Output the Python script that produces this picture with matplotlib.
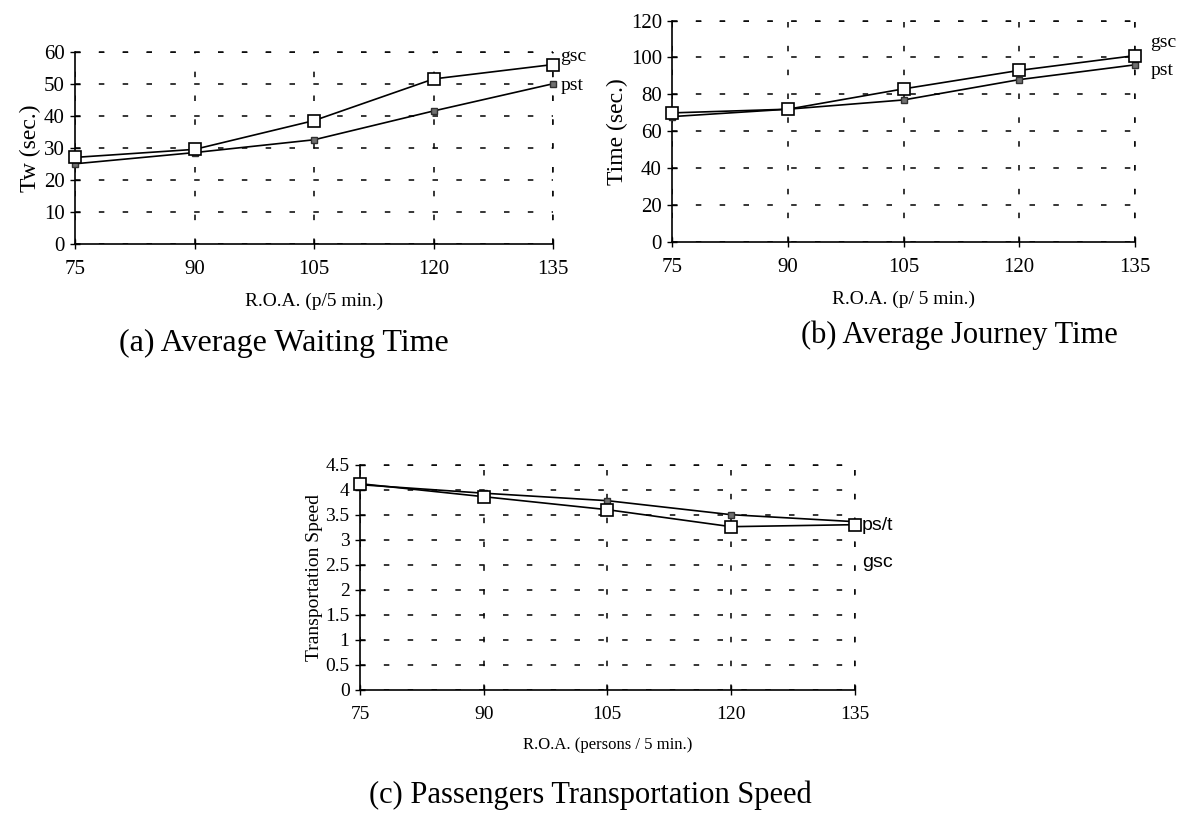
import matplotlib
matplotlib.use("Agg")
import matplotlib.pyplot as plt

roa = [75, 90, 105, 120, 135]

# (a) Average waiting time
wait_gsc = [27, 29.5, 38.5, 51.5, 56]
wait_pst = [25, 28.5, 32.5, 41.5, 50]

# (b) Average journey time
journey_gsc = [70, 72, 83, 93, 101]
journey_pst = [68, 72, 77, 88, 96]

# (c) Transportation speed
speed_gsc = [4.12, 3.86, 3.6, 3.26, 3.3]
speed_pst = [4.1, 3.93, 3.78, 3.5, 3.36]

SERIF = "Liberation Serif"
SANS = "Liberation Sans"
DASH = (0, (3.6, 12))

fig = plt.figure(figsize=(11.92, 8.21), dpi=100)


def style_axes(ax, ymax, yticks, ylabels, fontsize):
    ax.set_xlim(75, 135)
    ax.set_ylim(0, ymax)
    ax.set_xticks(roa)
    ax.set_xticklabels([str(v) for v in roa], fontsize=fontsize, family=SERIF)
    ax.set_yticks(yticks)
    ax.set_yticklabels(ylabels, fontsize=fontsize, family=SERIF)
    ax.spines["top"].set_visible(False)
    ax.spines["right"].set_visible(False)
    ax.spines["left"].set_linewidth(1.2)
    ax.spines["bottom"].set_linewidth(1.2)
    ax.grid(True, color="black", linestyle=DASH, linewidth=1.1)
    ax.set_axisbelow(True)
    ax.tick_params(axis="both", direction="inout", length=7, width=1)
    ax.tick_params(axis="x", pad=8)
    ax.tick_params(axis="y", pad=4)
    ax.axhline(ymax, color="black", linestyle=DASH, linewidth=1.1, clip_on=False)
    ax.axvline(135, color="black", linestyle=DASH, linewidth=1.1, clip_on=False)


def plot_series(ax, ygsc, ypst):
    ax.plot(roa, ypst, color="black", linewidth=1.2, marker="s", markersize=5,
            markerfacecolor="#707070", markeredgecolor="#303030", clip_on=False, zorder=3)
    ax.plot(roa, ygsc, color="black", linewidth=1.2, marker="s", markersize=8.5,
            markerfacecolor="white", markeredgecolor="black", markeredgewidth=1.2,
            clip_on=False, zorder=4)


# ---------- (a) ----------
axa = fig.add_axes([0.063, 0.703, 0.401, 0.234])
plot_series(axa, wait_gsc, wait_pst)
ya = [0, 10, 20, 30, 40, 50, 60]
style_axes(axa, 60, ya, [str(v) for v in ya], 15)
axa.set_ylabel("Tw (sec.)", fontsize=17, family=SERIF, labelpad=2)
axa.set_xlabel("R.O.A. (p/5 min.)", fontsize=14, family=SERIF, labelpad=10)
axa.text(135.9, 58.5, "gsc", fontsize=14, family=SERIF, va="center", ha="left")
axa.text(135.9, 49.5, "pst", fontsize=14, family=SERIF, va="center", ha="left")
fig.text(0.238, 0.582, "(a) Average Waiting Time", fontsize=23, family=SERIF,
         ha="center", va="center")

# ---------- (b) ----------
axb = fig.add_axes([0.564, 0.705, 0.388, 0.270])
plot_series(axb, journey_gsc, journey_pst)
yb = [0, 20, 40, 60, 80, 100, 120]
style_axes(axb, 120, yb, [str(v) for v in yb], 15)
axb.set_ylabel("Time (sec.)", fontsize=17, family=SERIF, labelpad=2)
axb.set_xlabel("R.O.A. (p/ 5 min.)", fontsize=14, family=SERIF, labelpad=10)
axb.text(137.0, 108, "gsc", fontsize=14, family=SERIF, va="center", ha="left")
axb.text(137.0, 93, "pst", fontsize=14, family=SERIF, va="center", ha="left")
fig.text(0.805, 0.592, "(b) Average Journey Time", fontsize=22, family=SERIF,
         ha="center", va="center")

# ---------- (c) ----------
axc = fig.add_axes([0.302, 0.160, 0.415, 0.274])
plot_series(axc, speed_gsc, speed_pst)
yc = [0, 0.5, 1, 1.5, 2, 2.5, 3, 3.5, 4, 4.5]
style_axes(axc, 4.5, yc, ["0", "0.5", "1", "1.5", "2", "2.5", "3", "3.5", "4", "4.5"], 14)
axc.set_ylabel("Transportation Speed", fontsize=14, family=SERIF, labelpad=2)
axc.set_xlabel("R.O.A. (persons / 5 min.)", fontsize=12, family=SERIF, labelpad=10)
axc.text(135.9, 3.28, "ps/t", fontsize=14, family=SANS, va="center", ha="left")
axc.text(135.9, 2.55, "gsc", fontsize=14, family=SANS, va="center", ha="left")
fig.text(0.495, 0.031, "(c) Passengers Transportation Speed", fontsize=22, family=SERIF,
         ha="center", va="center")

fig.savefig("out.png", dpi=100)
